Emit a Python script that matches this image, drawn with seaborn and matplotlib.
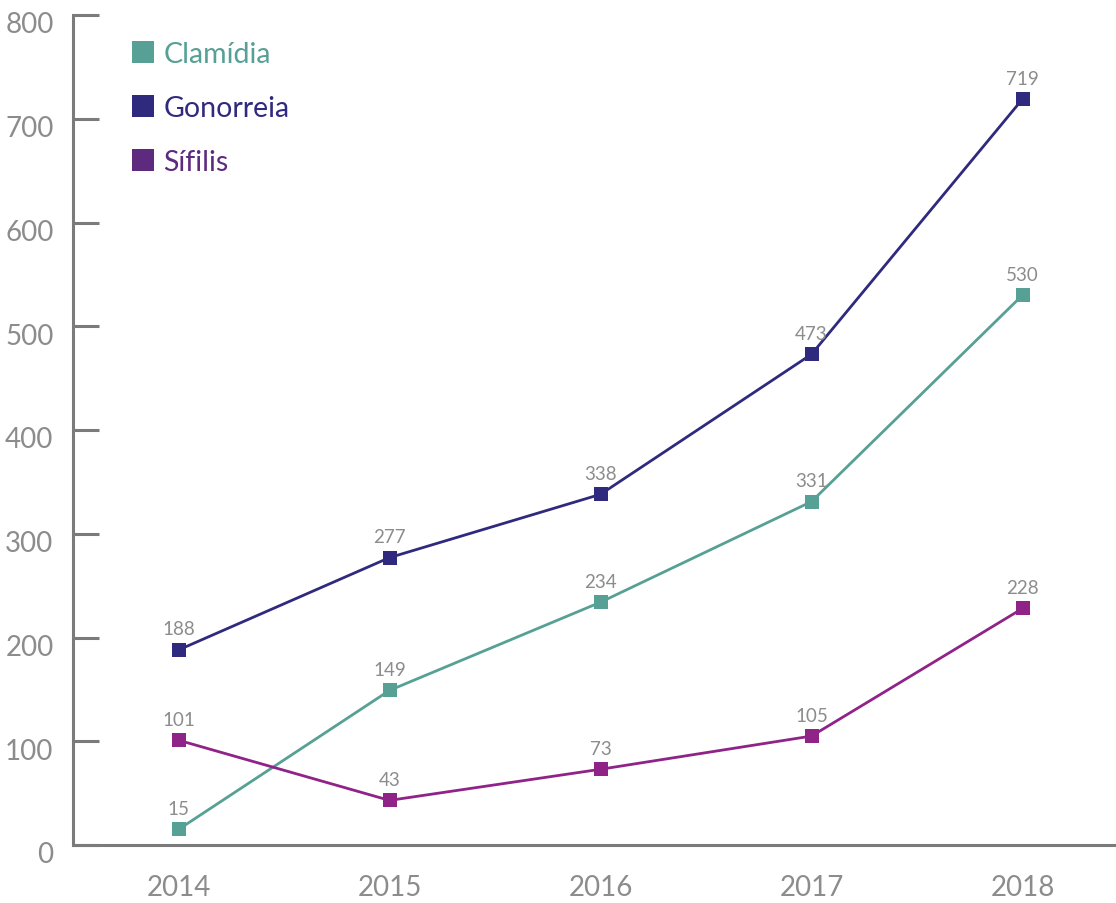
import pandas as pd
import matplotlib.pyplot as plt
import matplotlib.transforms as mtransforms
from matplotlib.lines import Line2D
import seaborn as sns

# data
anos = ['2014', '2015', '2016', '2017', '2018']
clamidia = [15, 149, 234, 331, 530]
gonorreia = [188, 277, 338, 473, 719]
sifilis = [101, 43, 73, 105, 228]

series = ['Clamídia', 'Gonorreia', 'Sífilis']
cores = {'Clamídia': '#56a096', 'Gonorreia': '#2f2a7e', 'Sífilis': '#8f2388'}
cores_legenda = {'Clamídia': '#56a096', 'Gonorreia': '#2f2a7e', 'Sífilis': '#5e2a7e'}

df = pd.DataFrame({
    'ano': anos * 3,
    'x': list(range(len(anos))) * 3,
    'valor': clamidia + gonorreia + sifilis,
    'serie': [s for s in series for _ in anos],
})

sns.set_style('white')
plt.rcParams['font.family'] = ['Lato', 'DejaVu Sans']
cinza = '#7b7b7b'
cinza_txt = '#8c8c8c'

fig = plt.figure(figsize=(11.16, 9.04), dpi=100)
ax = fig.add_axes([73/1116, 58/904, 1 - 73/1116, (846-16)/904])

sns.lineplot(data=df, x='x', y='valor', hue='serie', palette=cores,
             marker='s', markersize=9.5, markeredgewidth=0, linewidth=2,
             legend=False, ax=ax)

# data labels
for _, r in df.iterrows():
    ax.annotate(str(r['valor']), (r['x'], r['valor']), xytext=(0, 9),
                textcoords='offset points', ha='center', va='bottom',
                fontsize=13.5, color=cinza_txt)

ax.set_xlim(-0.5, 4.443)
ax.set_ylim(0, 800)
ax.set_xticks(range(len(anos)))
ax.set_xticklabels(anos)
ax.set_yticks(range(0, 801, 100))
ax.set_xlabel('')
ax.set_ylabel('')

sns.despine(ax=ax)
for s in ['left', 'bottom']:
    ax.spines[s].set_color(cinza)
    ax.spines[s].set_linewidth(2.2)

ax.tick_params(axis='y', left=True, direction='in', length=19, width=2.2, color=cinza,
               pad=14, labelsize=20, labelcolor=cinza_txt)
ax.tick_params(axis='x', bottom=False, length=0, pad=21, labelsize=20, labelcolor=cinza_txt)
# y labels sit a bit below their ticks
off = mtransforms.ScaledTranslation(0, -5/72, fig.dpi_scale_trans)
for lab in ax.get_yticklabels():
    lab.set_transform(lab.get_transform() + off)

# legend
handles = [Line2D([], [], linestyle='none', marker='s', markersize=16,
                  markeredgewidth=0, color=cores_legenda[s]) for s in series]
leg = ax.legend(handles, series, loc='upper left', bbox_to_anchor=(0.032, 0.999),
                frameon=False, fontsize=20.5, handlelength=0.8, handletextpad=0.3,
                labelspacing=0.97)
for t, s in zip(leg.get_texts(), series):
    t.set_color(cores_legenda[s])

fig.savefig('out.png', dpi=100)
